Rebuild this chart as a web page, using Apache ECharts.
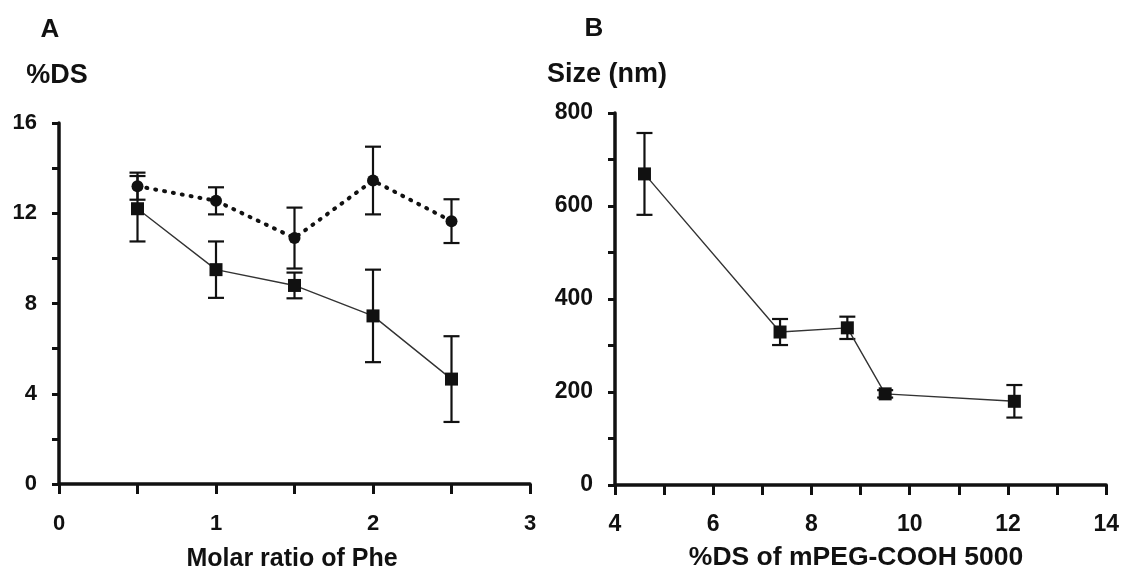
<!DOCTYPE html>
<html>
<head>
<meta charset="utf-8">
<script src="https://cdn.jsdelivr.net/npm/echarts@6/dist/echarts.min.js"></script>
<style>html,body{margin:0;padding:0;background:#fff;}#c{width:1122px;height:575px;}</style>
</head>
<body>
<div id="c"></div>
<script>
// Panel A: %DS vs molar ratio of Phe
const pheRatio = [0.5, 1, 1.5, 2, 2.5];
const dsCircle = [13.2, 12.55, 10.9, 13.45, 11.65];
const dsCircleErr = [0.6, 0.6, 1.35, 1.5, 0.97];
const dsSquare = [12.2, 9.5, 8.8, 7.45, 4.65];
const dsSquareErr = [1.45, 1.25, 0.57, 2.05, 1.9];
// Panel B: size vs %DS of mPEG-COOH 5000
const dsPeg = [4.6, 7.36, 8.73, 9.5, 12.13];
const sizeNm = [669, 329, 338, 196, 180];
const sizeErr = [88, 28, 24, 8, 35];

const FONT = 'Liberation Sans, Arial, sans-serif';
const INK = '#111';

function pairs(xs, ys) { return xs.map((x, i) => [x, ys[i]]); }
function errs(xs, ys, es) { return xs.map((x, i) => [x, ys[i] - es[i], ys[i] + es[i]]); }

function errRender(params, api) {
  const x = api.value(0), lo = api.value(1), hi = api.value(2);
  const a = api.coord([x, lo]), b = api.coord([x, hi]);
  const w = 8;
  const st = { stroke: INK, lineWidth: 2.2 };
  return { type: 'group', children: [
    { type: 'line', shape: { x1: a[0], y1: a[1], x2: b[0], y2: b[1] }, style: st },
    { type: 'line', shape: { x1: a[0] - w, y1: a[1], x2: a[0] + w, y2: a[1] }, style: st },
    { type: 'line', shape: { x1: b[0] - w, y1: b[1], x2: b[0] + w, y2: b[1] }, style: st }
  ]};
}

function xAxis(gi, min, max, interval, fs, margin) {
  return {
    type: 'value', gridIndex: gi, min: min, max: max, interval: interval,
    axisLine: { show: true, onZero: false, lineStyle: { color: INK, width: 3.5 } },
    axisTick: { show: true, length: 10, lineStyle: { color: INK, width: 3 } },
    minorTick: { show: true, splitNumber: 2, length: 10, lineStyle: { color: INK, width: 3 } },
    splitLine: { show: false }, minorSplitLine: { show: false },
    axisLabel: { color: INK, fontSize: fs, fontWeight: 'bold', fontFamily: FONT, margin: margin }
  };
}
function yAxis(gi, min, max, interval, fs) {
  return {
    type: 'value', gridIndex: gi, min: min, max: max, interval: interval,
    axisLine: { show: true, onZero: false, lineStyle: { color: INK, width: 3.5 } },
    axisTick: { show: true, length: 7, lineStyle: { color: INK, width: 3 } },
    minorTick: { show: true, splitNumber: 2, length: 7, lineStyle: { color: INK, width: 3 } },
    splitLine: { show: false }, minorSplitLine: { show: false },
    axisLabel: { color: INK, fontSize: fs, fontWeight: 'bold', fontFamily: FONT, margin: 22 }
  };
}

function txt(x, y, s, size) {
  return { type: 'text', x: x, y: y, style: { text: s, fill: INK, font: 'bold ' + size + 'px ' + FONT, textAlign: 'center', textVerticalAlign: 'middle' } };
}

const chart = echarts.init(document.getElementById('c'), null, { renderer: 'canvas' });
chart.setOption({
  backgroundColor: '#fff',
  animation: false,
  grid: [
    { left: 59, right: 592, top: 123, bottom: 91 },
    { left: 615, right: 14, top: 113, bottom: 90 }
  ],
  xAxis: [xAxis(0, 0, 3, 1, 22, 29), xAxis(1, 4, 14, 2, 23, 28)],
  yAxis: [yAxis(0, 0, 16, 4, 22), yAxis(1, 0, 800, 200, 23)],
  graphic: [
    txt(50, 30, 'A', 26),
    txt(57, 76, '%DS', 27),
    txt(594, 29, 'B', 26),
    txt(607, 75, 'Size (nm)', 27),
    txt(292, 559, 'Molar ratio of Phe', 25),
    txt(856, 558, '%DS of mPEG-COOH 5000', 26.5)
  ],
  series: [
    { type: 'custom', xAxisIndex: 0, yAxisIndex: 0, renderItem: errRender, data: errs(pheRatio, dsCircle, dsCircleErr), clip: false, z: 3 },
    { type: 'custom', xAxisIndex: 0, yAxisIndex: 0, renderItem: errRender, data: errs(pheRatio, dsSquare, dsSquareErr), clip: false, z: 3 },
    { type: 'line', xAxisIndex: 0, yAxisIndex: 0, data: pairs(pheRatio, dsCircle), symbol: 'circle', symbolSize: 12,
      itemStyle: { color: INK }, lineStyle: { color: INK, width: 4, type: [1, 8], cap: 'round' }, z: 4 },
    { type: 'line', xAxisIndex: 0, yAxisIndex: 0, data: pairs(pheRatio, dsSquare), symbol: 'rect', symbolSize: 13,
      itemStyle: { color: INK }, lineStyle: { color: '#333', width: 1.4 }, z: 4 },
    { type: 'custom', xAxisIndex: 1, yAxisIndex: 1, renderItem: errRender, data: errs(dsPeg, sizeNm, sizeErr), clip: false, z: 3 },
    { type: 'line', xAxisIndex: 1, yAxisIndex: 1, data: pairs(dsPeg, sizeNm), symbol: 'rect', symbolSize: 13,
      itemStyle: { color: INK }, lineStyle: { color: '#333', width: 1.4 }, z: 4 }
  ]
});
</script>
</body>
</html>
